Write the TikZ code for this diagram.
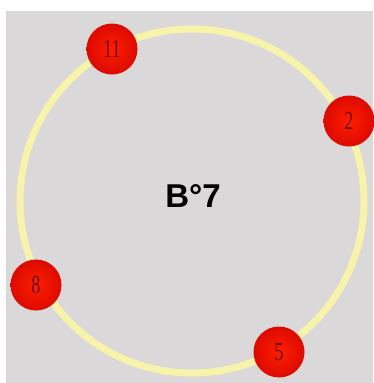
\documentclass[tikz,border=0pt]{standalone}
\usepackage{fontspec}
\setmainfont{Liberation Serif}
\newfontfamily\labelsans{Liberation Sans}
\begin{document}
\begin{tikzpicture}[x=1pt,y=-1pt,
  ballnode/.style={circle,minimum size=51pt,inner sep=0pt,
    shading=radial,inner color={rgb,255:red,255;green,30;blue,0},
    outer color={rgb,255:red,220;green,10;blue,0}},
  numtext/.style={font=\fontsize{26}{26}\selectfont,text={rgb,255:red,110;green,10;blue,10},xscale=0.7}]
\useasboundingbox (0,0) rectangle (373,383);
\fill[white] (0,0) rectangle (373,383);
\fill[fill={rgb,255:red,218;green,216;blue,217}] (6,11) rectangle (373,383);
\coordinate (ctr) at (192,201);
\draw[line width=7pt,color={rgb,255:red,248;green,243;blue,170}] (ctr) circle[radius=172];
\node[font=\labelsans\bfseries\fontsize{33}{33}\selectfont] (title) at (193,196) {B°7};
\node[ballnode] (b11) at (112,49) {};
\node[ballnode] (b2) at (349,121) {};
\node[ballnode] (b8) at (36,285) {};
\node[ballnode] (b5) at (279,352) {};
\node[numtext] at (b11) {11};
\node[numtext] at (b2) {2};
\node[numtext] at (b8) {8};
\node[numtext] at (b5) {5};
\end{tikzpicture}
\end{document}
